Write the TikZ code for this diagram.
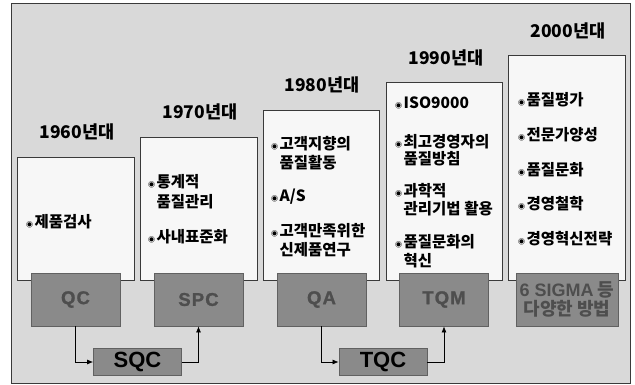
\documentclass[tikz,border=0pt]{standalone}
\usepackage{fontspec}
\setmainfont{Noto Sans CJK KR}
\newfontfamily\latf{Liberation Sans}
\newfontfamily\latsp[LetterSpace=6,FakeBold=1.2]{Liberation Sans Bold}
\usetikzlibrary{arrows.meta}
\definecolor{bgc}{HTML}{D9D9D9}
\definecolor{boxc}{HTML}{F7F7F7}
\definecolor{darkc}{HTML}{8A8A8A}
\definecolor{darkt}{HTML}{4E4E4E}
\definecolor{edgec}{HTML}{3A3A3A}
\newcommand\bl{{\fontsize{7}{7}\selectfont ◉}\hspace{1.5pt}}
\newcommand\ind{\phantom{\bl}}
\tikzset{
  erabox/.style={draw=edgec, line width=0.8pt, fill=boxc},
  darkbox/.style={draw=edgec!80, line width=0.8pt, fill=darkc, minimum width=89pt, minimum height=53pt, inner sep=0pt, align=center},
  darklab/.style={font=\latsp\fontsize{18.5}{22}\selectfont, text=darkt},
  midbox/.style={draw=edgec!80, line width=0.8pt, fill=darkc, minimum width=88pt, minimum height=27pt, inner sep=0pt, font=\latf\bfseries\fontsize{22}{24}\selectfont, text=black},
  year/.style={font=\bfseries\fontsize{17.5}{20}\selectfont, inner sep=0pt},
  item/.style={anchor=west, inner sep=0pt, font=\bfseries\fontsize{15.5}{17}\selectfont},
  arr/.style={draw=black, line width=0.7pt, -{Latex[length=6pt,width=5pt]}}
}
\begin{document}
\begin{tikzpicture}[x=1pt,y=-1pt]
\useasboundingbox (0,0) rectangle (635,385);
\fill[white] (0,0) rectangle (635,385);
\draw[fill=bgc, draw=edgec, line width=0.8pt] (11,3) rectangle (630,383);

% era boxes
\draw[erabox] (17,157) rectangle (134,280);
\draw[erabox] (140,137) rectangle (257,280);
\draw[erabox] (263,110) rectangle (379,280);
\draw[erabox] (386,82) rectangle (502,280);
\draw[erabox] (508,55) rectangle (625,280);

% years
\node[year] (y1) at (77,132) {1960년대};
\node[year] (y2) at (200,112) {1970년대};
\node[year] (y3) at (322,85) {1980년대};
\node[year] (y4) at (446,58) {1990년대};
\node[year] (y5) at (568,31) {2000년대};

% items
\node[item] (a1) at (26,222) {\bl 제품검사};

\node[item] (b1) at (148,182) {\bl 통계적};
\node[item] (b2) at (148,202) {\ind 품질관리};
\node[item] (b3) at (148,237) {\bl 사내표준화};

\node[item] (c1) at (271,144) {\bl 고객지향의};
\node[item] (c2) at (271,163) {\ind 품질활동};
\node[item] (c3) at (271,197) {\bl A/S};
\node[item] (c4) at (271,231) {\bl 고객만족위한};
\node[item] (c5) at (271,250) {\ind 신제품연구};

\node[item] (d1) at (395,103) {\bl ISO9000};
\node[item] (d2) at (395,142) {\bl 최고경영자의};
\node[item] (d3) at (395,159) {\ind 품질방침};
\node[item] (d4) at (395,191) {\bl 과학적};
\node[item] (d5) at (395,209) {\ind 관리기법 활용};
\node[item] (d6) at (395,242) {\bl 품질문화의};
\node[item] (d7) at (395,261) {\ind 혁신};

\node[item] (e1) at (518,100) {\bl 품질평가};
\node[item] (e2) at (518,135) {\bl 전문가양성};
\node[item] (e3) at (518,170) {\bl 품질문화};
\node[item] (e4) at (518,204) {\bl 경영철학};
\node[item] (e5) at (518,239) {\bl 경영혁신전략};

% dark boxes
\node[darkbox, darklab] (QC) at (75.5,299.5) {QC};
\node[darkbox, darklab] (SPC) at (198.5,299.5) {SPC};
\node[darkbox, darklab] (QA) at (321.5,299.5) {QA};
\node[darkbox, darklab] (TQM) at (444,299.5) {TQM};
\node[darkbox, minimum width=102pt, text=darkt, font=\bfseries\fontsize{18}{22}\selectfont] (SIG) at (567,299.5) {{\latf\bfseries 6 SIGMA} 등\\[-3pt]다양한 방법};

\node[midbox] (SQC) at (137.5,362) {SQC};
\node[midbox] (TQC) at (383,362) {TQC};

\draw[arr] (QC.south) |- (SQC.west);
\draw[arr] (SQC.east) -| (SPC.south);
\draw[arr] (QA.south) |- (TQC.west);
\draw[arr] (TQC.east) -| (TQM.south);
\end{tikzpicture}
\end{document}
